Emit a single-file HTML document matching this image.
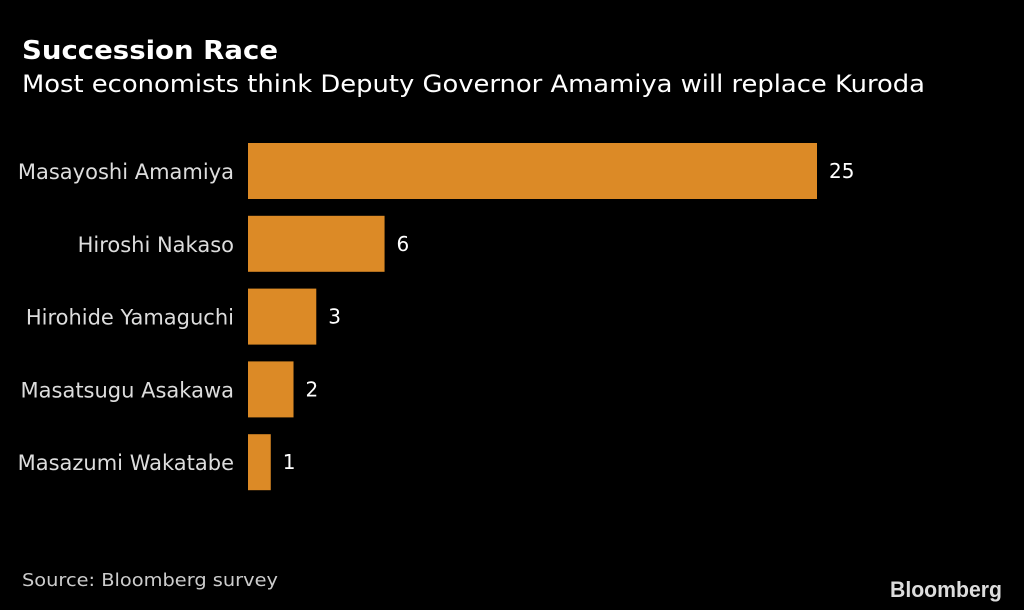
<!DOCTYPE html>
<html><head><meta charset="utf-8"><style>
html,body{margin:0;padding:0;background:#000;}
svg{display:block;font-family:"DejaVu Sans","Liberation Sans",sans-serif;}
</style></head><body>
<svg id="chart" width="1024" height="610" viewBox="0 0 1024 610" xmlns="http://www.w3.org/2000/svg">
<rect width="1024" height="610" fill="#000"/>
<text x="22" y="59" fill="#fff" font-size="26" font-weight="bold" textLength="256" lengthAdjust="spacingAndGlyphs">Succession Race</text>
<text x="22" y="92" fill="#fff" font-size="24" textLength="903" lengthAdjust="spacingAndGlyphs">Most economists think Deputy Governor Amamiya will replace Kuroda</text>
<g id="bars"></g>
<text x="22" y="586" fill="#ccc" font-size="18" textLength="256" lengthAdjust="spacingAndGlyphs">Source: Bloomberg survey</text>
<text x="1002" y="597" fill="#ddd" font-size="22" font-weight="bold" text-anchor="end" textLength="112" lengthAdjust="spacingAndGlyphs" font-family="Liberation Sans, sans-serif">Bloomberg</text>
</svg>
<script>
const categories = ["Masayoshi Amamiya","Hiroshi Nakaso","Hirohide Yamaguchi","Masatsugu Asakawa","Masazumi Wakatabe"];
const values = [25,6,3,2,1];
const x0 = 248, unit = 22.76, top0 = 143, pitch = 72.8, barH = 56;
const xScale = v => x0 + v*unit;
const yScale = i => top0 + i*pitch;
const g = document.getElementById('bars');
const NS = "http://www.w3.org/2000/svg";
categories.forEach((c,i)=>{
  const y = yScale(i);
  const r = document.createElementNS(NS,'rect');
  r.setAttribute('x',x0); r.setAttribute('y',y);
  r.setAttribute('width',xScale(values[i])-x0); r.setAttribute('height',barH);
  r.setAttribute('fill','#dc8a26');
  
  
  g.appendChild(r);
  const l = document.createElementNS(NS,'text');
  l.setAttribute('x',234); l.setAttribute('y',y+barH/2+8);
  l.setAttribute('text-anchor','end'); l.setAttribute('fill','#ddd'); l.setAttribute('font-size','21');
  l.textContent = c;
  
  
  g.appendChild(l);
  const v = document.createElementNS(NS,'text');
  v.setAttribute('x',xScale(values[i])+12); v.setAttribute('y',y+barH/2+7);
  v.setAttribute('fill','#fff'); v.setAttribute('font-size','20');
  v.textContent = values[i];
  
  
  g.appendChild(v);
});
</script>
</body></html>
